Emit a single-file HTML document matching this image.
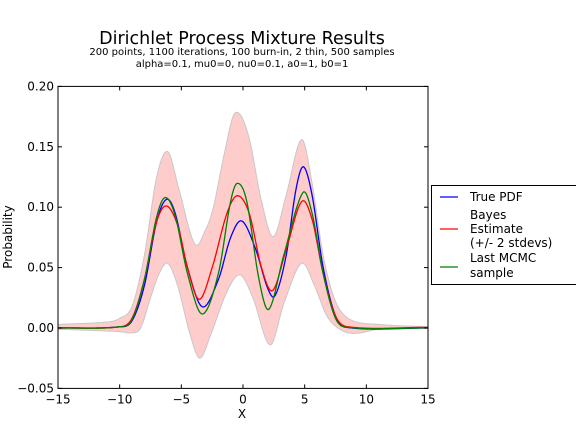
<!DOCTYPE html>
<html><head><meta charset="utf-8"><style>
body{margin:0;background:#fff}
svg{display:block;font-family:"DejaVu Sans","Liberation Sans",sans-serif}
</style></head><body>
<svg id="chart" width="576" height="432" viewBox="0 0 576 432">
<text x="242" y="44" font-size="17.5" text-anchor="middle">Dirichlet Process Mixture Results</text>
<text x="242" y="55" font-size="10" text-anchor="middle">200 points, 1100 iterations, 100 burn-in, 2 thin, 500 samples</text>
<text x="242" y="67" font-size="10" text-anchor="middle">alpha=0.1, mu0=0, nu0=0.1, a0=1, b0=1</text>
<g id="plot"></g>
<text x="242" y="418" font-size="12" text-anchor="middle">X</text>
<text transform="translate(12,237) rotate(-90)" font-size="12" text-anchor="middle">Probability</text>
<g>
<rect x="431.5" y="185.5" width="150" height="99" fill="#fff" stroke="#000" stroke-width="1"/>
<g><line x1="440" y1="197" x2="458" y2="197" stroke="#00f" stroke-width="1.2"/><text x="470" y="201" font-size="12">True PDF</text></g>
<g><line x1="440" y1="229" x2="458" y2="229" stroke="#f00" stroke-width="1.2"/><text x="470" y="219" font-size="12">Bayes</text><text x="470" y="233" font-size="12">Estimate</text><text x="470" y="247" font-size="12">(+/- 2 stdevs)</text></g>
<g><line x1="440" y1="267" x2="458" y2="267" stroke="#008000" stroke-width="1.2"/><text x="470" y="262" font-size="12">Last MCMC</text><text x="470" y="277" font-size="12">sample</text></g>
</g>
</svg>
<script>
const xTicks=[-15,-10,-5,0,5,10,15];
const yTicks=[-0.05,0,0.05,0.10,0.15,0.20];
const yTickLabels=["\u22120.05","0.00","0.05","0.10","0.15","0.20"];
const xTickLabels=["\u221215","\u221210","\u22125","0","5","10","15"];
const blueX=[-15,-10,-9,-8,-7,-6.2,-5.5,-4.5,-3.3,-2,-1,-0.1,1,2,2.6,3.5,4.3,4.9,5.6,6.5,7.5,8.4,15];
const blueY=[0,0.001,0.006,0.035,0.088,0.1065,0.095,0.05,0.0176,0.04,0.075,0.0886,0.066,0.033,0.0268,0.06,0.115,0.1335,0.11,0.05,0.01,0.0005,0];
const redX=[-15,-10,-9,-8,-7,-6.2,-5.3,-4.5,-3.55,-2.5,-1.3,-0.45,0.5,1.5,2.4,3.5,4.75,5.6,6.5,7.5,8.5,15];
const redY=[0,0.001,0.008,0.04,0.088,0.101,0.085,0.05,0.0237,0.05,0.095,0.1095,0.095,0.05,0.031,0.065,0.1046,0.09,0.045,0.01,0.001,0.0005];
const greenX=[-15,-10,-9,-8,-7,-6.3,-5.5,-4.5,-3.3,-2,-1,-0.45,0.3,1.3,2.1,3.3,4.85,5.6,6.5,7.5,8.5,15];
const greenY=[0,0.001,0.007,0.04,0.092,0.108,0.093,0.045,0.0116,0.045,0.105,0.1198,0.105,0.04,0.0155,0.06,0.112,0.095,0.045,0.008,0.0005,0];
const upX=[-15,-11,-10,-9,-8,-7,-6.1,-5.2,-3.9,-3,-2.4,-1.5,-0.65,0.4,1.5,2.45,3.5,4.75,5.6,6.5,7.5,8.7,11,15];
const upY=[0.003,0.005,0.008,0.018,0.06,0.125,0.146,0.115,0.0695,0.082,0.1,0.145,0.178,0.161,0.105,0.0756,0.11,0.156,0.12,0.06,0.022,0.007,0.003,0.001];
const loX=[-15,-10,-9,-8.3,-7.5,-6.8,-6.1,-5.3,-4.3,-3.5,-2.6,-1.3,-0.25,0.8,2.2,3.3,4.75,5.8,6.8,8,9.2,11,15];
const loY=[-0.001,-0.003,-0.004,0,0.025,0.045,0.0535,0.035,-0.005,-0.025,-0.005,0.03,0.044,0.025,-0.014,0.02,0.0535,0.035,0.01,-0.002,-0.0044,-0.001,0];

const L=58,R=428,T=86.4,B=388.4;
const sx=v=>L+(v+15)/30*(R-L);
const sy=v=>B-(v+0.05)/0.25*(B-T);
const NS="http://www.w3.org/2000/svg";
const plot=document.getElementById('plot');
function mk(tag,attrs){const e=document.createElementNS(NS,tag);for(const k in attrs)e.setAttribute(k,attrs[k]);plot.appendChild(e);return e;}
function interp(xs,ys){
  const out=[];
  for(let i=0;i<xs.length-1;i++){
    const x0=xs[Math.max(i-1,0)],y0=ys[Math.max(i-1,0)],x1=xs[i],y1=ys[i],x2=xs[i+1],y2=ys[i+1],x3=xs[Math.min(i+2,xs.length-1)],y3=ys[Math.min(i+2,xs.length-1)];
    const m1=(y2-y0)/((x2-x0)||1),m2=(y3-y1)/((x3-x1)||1);
    const h=x2-x1,n=Math.max(4,Math.ceil(h*12));
    for(let k=0;k<n;k++){const t=k/n,t2=t*t,t3=t2*t;
      const y=(2*t3-3*t2+1)*y1+(t3-2*t2+t)*h*m1+(-2*t3+3*t2)*y2+(t3-t2)*h*m2;
      out.push([x1+t*h,y]);}
  }
  out.push([xs[xs.length-1],ys[ys.length-1]]);
  return out;
}
const pts=a=>a.map(p=>sx(p[0]).toFixed(2)+','+sy(p[1]).toFixed(2)).join(' ');
const up=interp(upX,upY),lo=interp(loX,loY);
const band=mk('polygon',{points:pts(up)+' '+pts(lo.slice().reverse()),fill:'#ffcccc',stroke:'none'});


[[up,'upper-band-edge'],[lo,'lower-band-edge']].forEach(([a,n])=>{const e=mk('polyline',{points:pts(a),fill:'none',stroke:'#c8c8c8','stroke-width':1});

});
[[blueX,blueY,'#0000ff','true-pdf-line'],[redX,redY,'#ff0000','bayes-estimate-line'],[greenX,greenY,'#008000','last-mcmc-line']].forEach(([xs,ys,c,n])=>{
  const e=mk('polyline',{points:pts(interp(xs,ys)),fill:'none',stroke:c,'stroke-width':1.3});
  
  
});
const fr=mk('rect',{x:L,y:T,width:R-L,height:B-T,fill:'none',stroke:'#000','stroke-width':1});


xTicks.forEach((v,i)=>{const x=sx(v);
  mk('line',{x1:x,y1:B,x2:x,y2:B-4,stroke:'#000'});mk('line',{x1:x,y1:T,x2:x,y2:T+4,stroke:'#000'});
  const t=mk('text',{x:x,y:B+15,'font-size':12,'text-anchor':'middle'});t.textContent=xTickLabels[i];
  
  });
yTicks.forEach((v,i)=>{const y=sy(v);
  mk('line',{x1:L,y1:y,x2:L+4,y2:y,stroke:'#000'});mk('line',{x1:R,y1:y,x2:R-4,y2:y,stroke:'#000'});
  const t=mk('text',{x:L-4,y:y+4,'font-size':12,'text-anchor':'end'});t.textContent=yTickLabels[i];
  
  });
</script>
</body></html>
